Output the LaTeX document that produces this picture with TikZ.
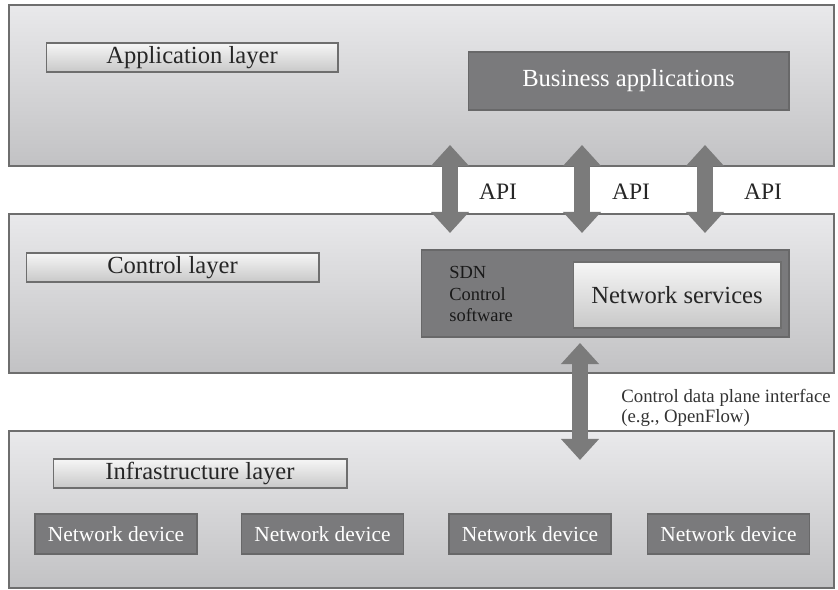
\documentclass[tikz,border=0pt]{standalone}
\usepackage{fontspec}
\setmainfont{Liberation Serif}
\usepackage{tikz}
\usetikzlibrary{arrows.meta, positioning, shadows}
\definecolor{edgegray}{HTML}{6E6E6E}
\definecolor{darkbox}{HTML}{7A7A7C}
\definecolor{layertop}{HTML}{E9E9EB}
\definecolor{layerbot}{HTML}{C2C2C4}
\definecolor{labeltop}{HTML}{F6F6F6}
\definecolor{labelbot}{HTML}{C8C8C8}
\definecolor{arrowgray}{HTML}{7B7B7B}
\tikzstyle{layer} = [rectangle, draw=edgegray, line width=0.8pt, top color=layertop, bottom color=layerbot,
                     minimum width=16.5cm, drop shadow={opacity=0.25, shadow xshift=0.6pt, shadow yshift=-0.8pt}]
\tikzstyle{layerlabel} = [rectangle, draw=edgegray, line width=0.6pt, top color=labeltop, bottom color=labelbot,
                          minimum height=0.58cm, inner sep=0pt, text=black!85,
                          font=\fontsize{14pt}{16pt}\selectfont,
                          drop shadow={opacity=0.3, shadow xshift=0.6pt, shadow yshift=-0.8pt}]
\tikzstyle{darkbox} = [rectangle, draw=darkbox!85!black, line width=0.6pt, fill=darkbox, text=white, inner sep=0pt]
\tikzstyle{device} = [darkbox, minimum width=3.24cm, minimum height=0.8cm, font=\fontsize{12.2pt}{14pt}\selectfont]
\tikzstyle{dblarrow} = [draw=arrowgray, line width=9pt,
                        {Triangle[width=21pt, length=12pt]}-{Triangle[width=21pt, length=12pt]}]
\tikzstyle{apilabel} = [font=\fontsize{13.4pt}{15pt}\selectfont, text=black!85]

\begin{document}
\begin{tikzpicture}[x=0.02cm, y=-0.02cm]
    \useasboundingbox (0,0) rectangle (838,590);

    % Layers
    \node[layer, minimum height=3.22cm] (app) at (421.5,85.5) {};
    \node[layer, minimum height=3.18cm] (ctl) at (421.5,293.5) {};
    \node[layer, minimum height=3.14cm] (infra) at (421.5,509.5) {};

    % Layer labels
    \node[layerlabel, minimum width=5.84cm] (applbl) at (192,57.5) {Application layer};
    \node[layerlabel, minimum width=5.86cm] (ctllbl) at (172.5,267.5) {Control layer};
    \node[layerlabel, minimum width=5.88cm] (infralbl) at (200,473.5) {Infrastructure layer};

    % Application layer content
    \node[darkbox, minimum width=6.42cm, minimum height=1.16cm, font=\fontsize{14pt}{16pt}\selectfont]
        (biz) at (628.5,81) {Business applications};

    % Control layer content
    \node[darkbox, minimum width=7.36cm, minimum height=1.74cm] (sdn) at (605,293.5) {};
    \node[layerlabel, minimum width=4.16cm, minimum height=1.32cm] (netsvc) at (677,295) {Network services};
    \node[anchor=west, align=left, inner sep=0pt, text=black!90,
          font=\fontsize{10.5pt}{12.5pt}\selectfont] (sdntxt) at (449,294) {SDN\\Control\\software};

    % Infrastructure layer content
    \node[device] (dev1) at (116,534) {Network device};
    \node[device] (dev2) at (322.5,534) {Network device};
    \node[device] (dev3) at (530,534) {Network device};
    \node[device] (dev4) at (728.5,534) {Network device};

    % API arrows between application and control layer
    \coordinate (a1top) at (450,145);
    \coordinate (a1bot) at (450,233);
    \coordinate (a2top) at (582,145);
    \coordinate (a2bot) at (582,233);
    \coordinate (a3top) at (705,145);
    \coordinate (a3bot) at (705,233);
    \draw[dblarrow] (a1top) -- (a1bot);
    \draw[dblarrow] (a2top) -- (a2bot);
    \draw[dblarrow] (a3top) -- (a3bot);
    \node[apilabel] (api1) at (498,192) {API};
    \node[apilabel] (api2) at (631,192) {API};
    \node[apilabel] (api3) at (763,192) {API};

    % Control data plane interface
    \coordinate (cdtop) at (580,343);
    \coordinate (cdbot) at (580,460);
    \draw[dblarrow] (cdtop) -- (cdbot);
    \node[anchor=west, align=left, inner sep=0pt, text=black!80,
          font=\fontsize{10.7pt}{11.5pt}\selectfont] (cdpi) at (621,408)
        {Control data plane interface\\(e.g., OpenFlow)};
\end{tikzpicture}
\end{document}
